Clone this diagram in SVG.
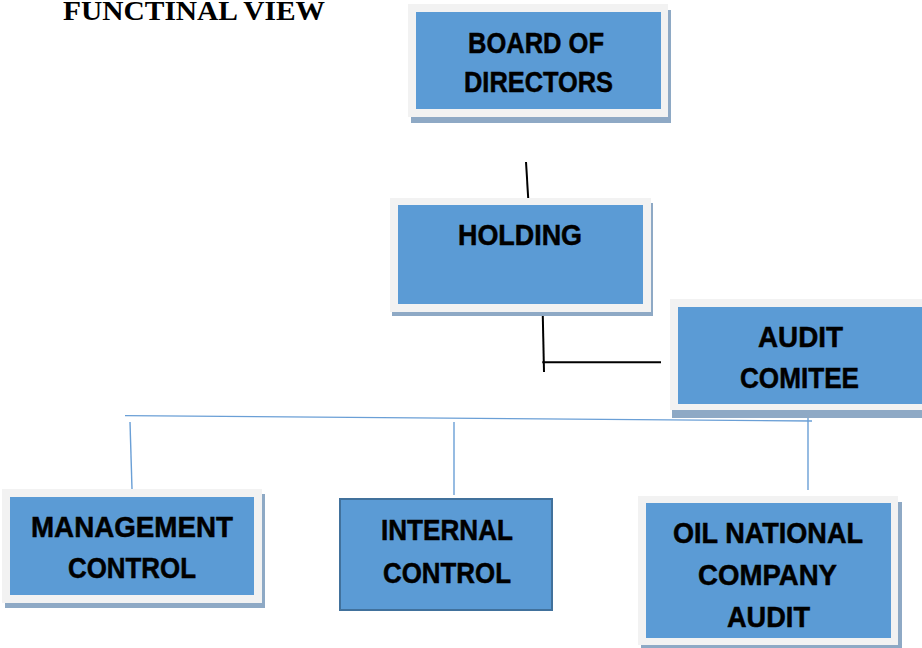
<svg xmlns="http://www.w3.org/2000/svg" width="922" height="648" viewBox="0 0 922 648">
  <defs>
    <style>
      .shadow { fill: #8ea9c5; }
      .frame { fill: #f2f2f2; }
      .box { fill: #5b9bd5; }
      .plain { fill: #5b9bd5; stroke: #41719c; stroke-width: 2; }
      .lbl { font-family: "Liberation Sans", Arial, sans-serif; font-weight: bold; font-size: 29px; fill: #000; stroke: #000; stroke-width: 0.5; text-anchor: start; }
      .title { font-family: "Liberation Serif", "Times New Roman", serif; font-weight: bold; font-size: 28px; fill: #000; }
      .dark { stroke: #000; stroke-width: 2; fill: none; }
      .blue { stroke: #6a9fd6; stroke-width: 1.4; fill: none; }
    </style>
  </defs>

  <rect width="922" height="648" fill="#fff"/>

  <text class="title" x="63" y="20" textLength="262" lengthAdjust="spacingAndGlyphs">FUNCTINAL VIEW</text>

  <!-- connectors -->
  <g id="connectors">
    <line class="dark" x1="526" y1="162" x2="528.5" y2="203"/>
    <line class="dark" x1="542.7" y1="312" x2="544" y2="372"/>
    <line class="dark" x1="542.3" y1="362.3" x2="661" y2="362.3"/>
    <line class="blue" x1="125" y1="415.6" x2="812" y2="421"/>
    <line class="blue" x1="130" y1="422" x2="132" y2="489"/>
    <line class="blue" x1="454" y1="422" x2="454" y2="495"/>
    <line class="blue" x1="808" y1="417" x2="808" y2="490"/>
  </g>

  <g id="board">
    <rect class="shadow" x="411" y="10" width="260" height="113"/>
    <rect class="frame" x="408" y="4" width="260" height="113"/>
    <rect class="box" x="416" y="12" width="245" height="97"/>
    <text class="lbl" x="468" y="53" textLength="136" lengthAdjust="spacingAndGlyphs">BOARD OF</text>
    <text class="lbl" x="464" y="92" textLength="149" lengthAdjust="spacingAndGlyphs">DIRECTORS</text>
  </g>

  <g id="holding">
    <rect class="shadow" x="392" y="203" width="261" height="113"/>
    <rect class="frame" x="390" y="198" width="261" height="114"/>
    <rect class="box" x="398" y="205" width="245" height="99"/>
    <text class="lbl" x="458" y="245" textLength="124" lengthAdjust="spacingAndGlyphs">HOLDING</text>
  </g>

  <g id="audit">
    <rect class="shadow" x="672" y="305" width="260" height="113"/>
    <rect class="frame" x="670" y="299" width="260" height="111"/>
    <rect class="box" x="678" y="307" width="250" height="97"/>
    <text class="lbl" x="758" y="347" textLength="85" lengthAdjust="spacingAndGlyphs">AUDIT</text>
    <text class="lbl" x="740" y="388" textLength="119" lengthAdjust="spacingAndGlyphs">COMITEE</text>
  </g>

  <g id="management">
    <rect class="shadow" x="5" y="494" width="260" height="114"/>
    <rect class="frame" x="2" y="489" width="260" height="114"/>
    <rect class="box" x="10" y="497" width="244" height="98"/>
    <text class="lbl" x="31" y="537" textLength="202" lengthAdjust="spacingAndGlyphs">MANAGEMENT</text>
    <text class="lbl" x="68" y="578" textLength="128" lengthAdjust="spacingAndGlyphs">CONTROL</text>
  </g>

  <g id="internal">
    <rect class="plain" x="340" y="499" width="212" height="111"/>
    <text class="lbl" x="381" y="540" textLength="132" lengthAdjust="spacingAndGlyphs">INTERNAL</text>
    <text class="lbl" x="383" y="583" textLength="128" lengthAdjust="spacingAndGlyphs">CONTROL</text>
  </g>

  <g id="oil">
    <rect class="shadow" x="641" y="502" width="261" height="150"/>
    <rect class="frame" x="638" y="496" width="260" height="149"/>
    <rect class="box" x="646" y="503" width="245" height="135"/>
    <text class="lbl" x="673" y="543" textLength="190" lengthAdjust="spacingAndGlyphs">OIL NATIONAL</text>
    <text class="lbl" x="698" y="585" textLength="139" lengthAdjust="spacingAndGlyphs">COMPANY</text>
    <text class="lbl" x="727" y="627" textLength="83" lengthAdjust="spacingAndGlyphs">AUDIT</text>
  </g>
</svg>
